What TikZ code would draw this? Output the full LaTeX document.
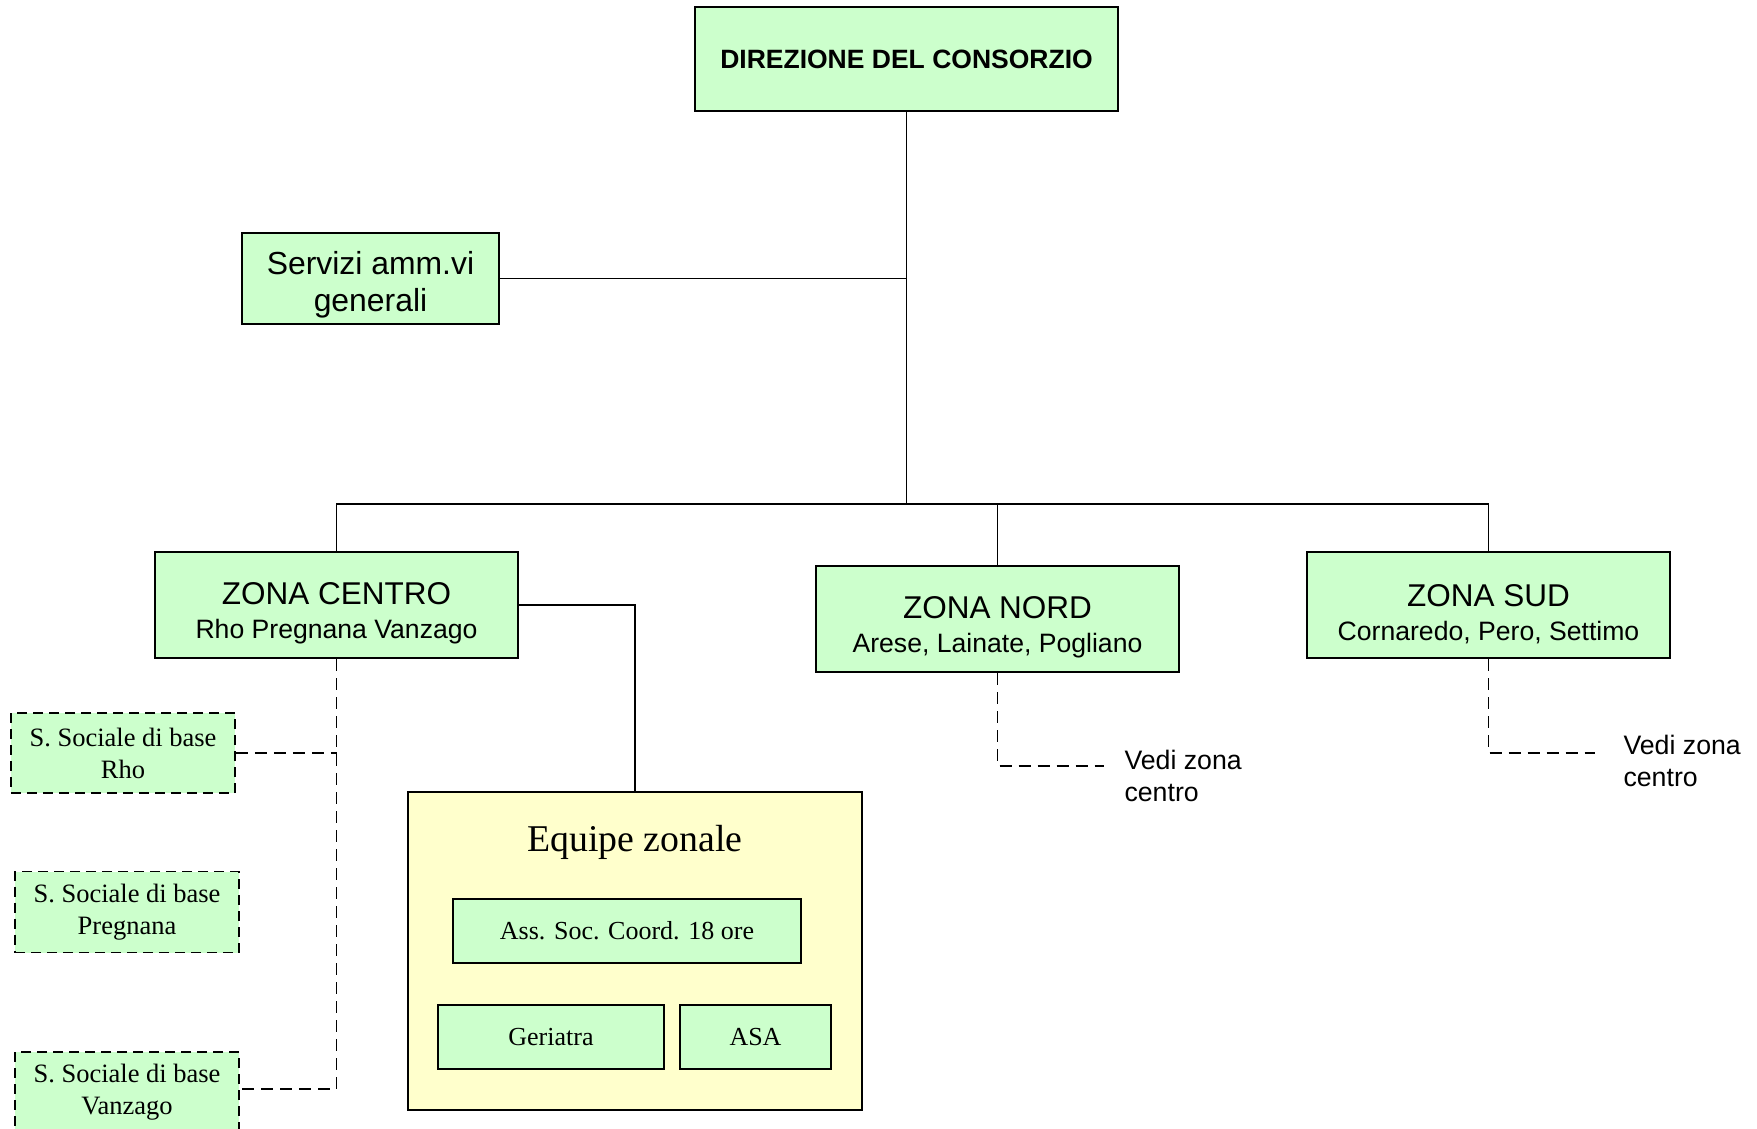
\documentclass[tikz,border=0pt]{standalone}
\usepackage{fontspec}
\setmainfont{Liberation Serif}
\newfontfamily\plainsans{Liberation Sans}
\definecolor{boxgreen}{HTML}{CCFFCC}
\definecolor{boxyellow}{HTML}{FFFFCC}
\tikzset{
  unit/.style={rectangle, draw=black, line width=2pt, fill=boxgreen, align=center, inner sep=0pt},
  zone/.style={unit, minimum width=363pt, minimum height=106pt, font=\plainsans\fontsize{26.6}{34}\selectfont},
  sub/.style={unit, dash pattern=on 10pt off 6pt, line width=1.8pt, minimum width=224pt, font=\fontsize{26.5}{32}\selectfont},
  link/.style={line width=1.6pt},
  dlink/.style={line width=1.6pt, dash pattern=on 12pt off 7pt},
}
\newcommand{\zonetitle}[1]{{\fontsize{31.5}{34}\selectfont\rule{0pt}{39.5pt}#1}}
\begin{document}
\begin{tikzpicture}[x=1pt,y=-1pt]
%%%%%%%%%%%%%%%%%%%%%%%%%%%%%%%%%%%%%%%%%%% FRAME
\useasboundingbox (0,0) rectangle (1757,1129);

%%%%%%%%%%%%%%%%%%%%%%%%%%%%%%%%%%%%%%%%%%% top
\node[unit, minimum width=423pt, minimum height=104pt, font=\plainsans\bfseries\fontsize{26.5}{30}\selectfont](dir) at (906.5,59){DIREZIONE DEL CONSORZIO};
\node[unit, minimum width=257pt, minimum height=91pt, font=\plainsans\fontsize{31.9}{37}\selectfont](serv) at (370.5,278.5){\rule{0pt}{35pt}Servizi amm.vi\\generali};
\coordinate (bus) at (906.5,504);

%%%%%%%%%%%%%%%%%%%%%%%%%%%%%%%%%%%%%%%%%%% zones
\node[zone](centro) at (336.5,605){\zonetitle{ZONA CENTRO}\\Rho Pregnana Vanzago};
\node[zone](nord) at (997.5,619){\zonetitle{ZONA NORD}\\Arese, Lainate, Pogliano};
\node[zone](sud) at (1488.5,605){\zonetitle{ZONA SUD}\\Cornaredo, Pero, Settimo};

%%%%% see centre
\coordinate (nordend) at (1104,766);
\coordinate (sudend) at (1595,753);
\node[anchor=west, align=left, font=\plainsans\fontsize{26.7}{31.5}\selectfont](vedinord) at (1121,776){Vedi zona\\centro};
\node[anchor=west, align=left, font=\plainsans\fontsize{26.7}{31.5}\selectfont](vedisud) at (1620,761){Vedi zona\\centro};

%%%%%%%%%%%%%%%%%%%%%%%%%%%%%%%%%%%%%%%%%%% equipe
\node[rectangle, draw=black, line width=2pt, fill=boxyellow, minimum width=454pt, minimum height=318pt](equipe) at (635,951){};
\node[draw=none, font=\fontsize{37.8}{40}\selectfont](title) at (635,842.5){Equipe zonale};
\node[unit, minimum width=348pt, minimum height=64pt, font=\fontsize{26}{30}\selectfont](ass) at (627,931){Ass. Soc. Coord. 18 ore};
\node[unit, minimum width=226pt, minimum height=64pt, font=\fontsize{26}{30}\selectfont](ger) at (551,1037){Geriatra};
\node[unit, minimum width=151pt, minimum height=64pt, font=\fontsize{26}{30}\selectfont](asa) at (755.5,1037){ASA};

%%%%%%%%%%%%%%%%%%%%%%%%%%%%%%%%%%%%%%%%%%% social services
\node[sub, minimum height=80pt](rho) at (123,753){S. Sociale di base\\Rho};
\node[sub, minimum height=81pt](preg) at (127,912){S. Sociale di base\\Pregnana};
\node[sub, minimum height=80pt](vanz) at (127,1092){S. Sociale di base\\Vanzago};

%%%%%%%%%%%%%%%%%%%%%%%%%%%%%%%%%%%%%%%%%%% edges
\draw[link] (dir) -- (bus);
\draw[link] (serv) -- (serv -| bus);
\draw[link] (centro.north) |- (bus) -| (sud.north);
\draw[link] (nord.north) -- (nord.north |- bus);
\draw[link] (centro.east) -| (equipe.north);
\draw[dlink] (centro.south) |- ([yshift=3pt]vanz.east);
\draw[dlink] (rho.east) -- (rho -| centro);
\draw[dlink] (nord.south) |- (nordend);
\draw[dlink] (sud.south) |- (sudend);
\end{tikzpicture}
\end{document}
